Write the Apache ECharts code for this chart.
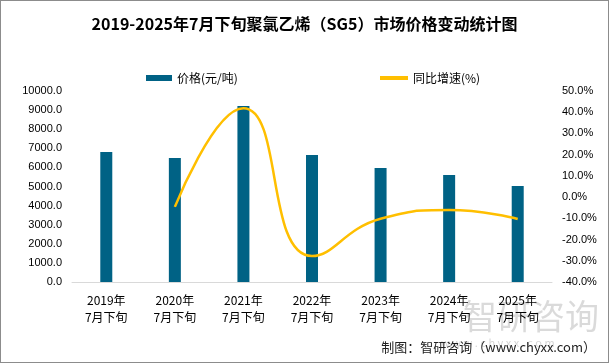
<!DOCTYPE html>
<html><head><meta charset="utf-8">
<script src="https://cdn.jsdelivr.net/npm/echarts@6/dist/echarts.min.js"></script>
<style>
html,body{margin:0;padding:0;background:#fff;}
#c{width:607px;height:361px;border:1px solid #8c8c8c;}
</style></head>
<body><div id="c"></div>
<script>
const categories = ['2019年\n7月下旬','2020年\n7月下旬','2021年\n7月下旬','2022年\n7月下旬','2023年\n7月下旬','2024年\n7月下旬','2025年\n7月下旬'];
const prices = [6800, 6490, 9210, 6650, 5970, 5600, 5030];
const growth = [null, -4.6, 41.9, -27.8, -10.2, -6.1, -10.3];
const leftTicks = {min: 0, max: 10000, interval: 1000};
const rightTicks = {min: -40, max: 50, interval: 10};

const chart = echarts.init(document.getElementById('c'));
const fam = '"Noto Sans CJK SC", "Microsoft YaHei", sans-serif';
chart.setOption({
  animation: false,
  title: {
    text: '2019-2025年7月下旬聚氯乙烯（SG5）市场价格变动统计图',
    left: 'center', top: 10,
    textStyle: {fontSize: 16, fontWeight: 'bold', color: '#000', fontFamily: fam}
  },
  legend: [{
    data: ['价格(元/吨)'], left: 140, top: 66,
    itemWidth: 26, itemHeight: 6, icon: 'rect', itemGap: 4,
    textStyle: {fontSize: 12, color: '#000', fontFamily: fam}
  }, {
    data: ['同比增速(%)'], left: 374, top: 66,
    itemWidth: 28, itemHeight: 4, icon: 'rect',
    textStyle: {fontSize: 12, color: '#000', fontFamily: fam}
  }],
  grid: {left: 71, right: 56, top: 90, bottom: 80},
  xAxis: {
    type: 'category', data: categories,
    axisLine: {lineStyle: {color: '#d9d9d9'}},
    axisTick: {show: false},
    axisLabel: {fontSize: 12, color: '#000', lineHeight: 17, margin: 10, fontFamily: fam, interval: 0}
  },
  yAxis: [{
    type: 'value', ...leftTicks,
    axisLine: {show: false}, axisTick: {show: false}, splitLine: {show: false},
    axisLabel: {fontSize: 11, color: '#000', margin: 10, formatter: v => v.toFixed(1), fontFamily: 'Liberation Sans, sans-serif'}
  }, {
    type: 'value', ...rightTicks,
    axisLine: {show: false}, axisTick: {show: false}, splitLine: {show: false},
    axisLabel: {fontSize: 11, color: '#000', margin: 10, formatter: v => v.toFixed(1) + '%', fontFamily: 'Liberation Sans, sans-serif'}
  }],
  series: [{
    name: '价格(元/吨)', type: 'bar', data: prices, barWidth: 12,
    itemStyle: {color: '#006285'}
  }, {
    name: '同比增速(%)', type: 'line', yAxisIndex: 1, data: growth,
    smooth: 0.5, showSymbol: false, symbol: 'none',
    lineStyle: {color: '#FFBF00', width: 2.5},
    itemStyle: {color: '#FFBF00'}
  }],
  graphic: [{
    type: 'text', left: 462, top: 298,
    style: {text: '智研咨询', fontSize: 34, fill: 'rgba(150,150,150,0.35)', fontFamily: fam}
  }, {
    type: 'text', left: 440, top: 336,
    style: {text: 'w w w . c h y x x . c o m', fontSize: 11, fill: 'rgba(150,150,150,0.4)', fontFamily: fam}
  }, {
    type: 'text', right: 12, top: 340,
    style: {text: '制图：智研咨询（www.chyxx.com）', fontSize: 13, fill: '#222', fontFamily: fam}
  }]
});
</script></body></html>
